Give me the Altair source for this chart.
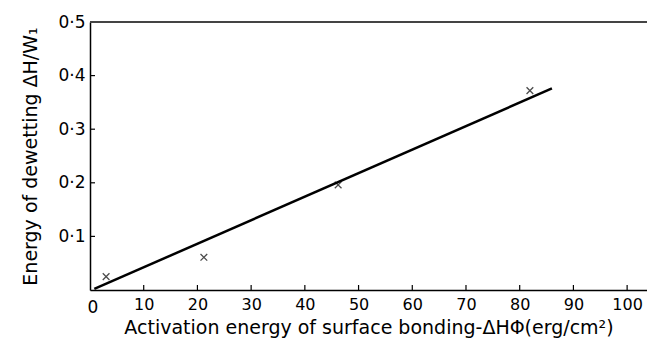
import altair as alt
import pandas as pd

# data
pts_x = [3.0, 21.2, 46.2, 81.9]
pts_y = [0.025, 0.061, 0.196, 0.372]
fit_x = [0.8, 86.0]
fit_y = [0.002, 0.376]
x_ticks = [10, 20, 30, 40, 50, 60, 70, 80, 90, 100]
y_ticks = [0.1, 0.2, 0.3, 0.4, 0.5]

FONT = "DejaVu Sans"
W, H = 557, 268
XMAX = 103.7

pts = pd.DataFrame({"x": pts_x, "y": pts_y})
fit = pd.DataFrame({"x": fit_x, "y": fit_y})
xt = pd.DataFrame({"x": x_ticks})
yt = pd.DataFrame({"y": y_ticks})

xs = alt.Scale(domain=[0, XMAX], nice=False, zero=False)
ys = alt.Scale(domain=[0, 0.5], nice=False, zero=False)

xaxis = alt.Axis(values=x_ticks, format="d", tickSize=0, labelPadding=6,
                 labelFont=FONT, labelFontSize=16, labelColor="black",
                 domainColor="black", domainWidth=1.5, grid=False,
                 title="Activation energy of surface bonding-ΔHΦ(erg/cm²)",
                 titleFont=FONT, titleFontSize=19, titleFontWeight="normal",
                 titleColor="black", titlePadding=6)
yaxis = alt.Axis(values=y_ticks, tickSize=0, labelPadding=5,
                 labelExpr="replace(format(datum.value, '.1f'), '.', '·')",
                 labelFont=FONT, labelFontSize=17, labelColor="black",
                 domainColor="black", domainWidth=1.5, grid=False,
                 title="Energy  of  dewetting    ΔH/W₁",
                 titleFont=FONT, titleFontSize=19, titleFontWeight="normal",
                 titleColor="black", titlePadding=17)

line = alt.Chart(fit).mark_line(color="black", strokeWidth=2.5).encode(
    x=alt.X("x:Q", scale=xs, axis=xaxis),
    y=alt.Y("y:Q", scale=ys, axis=yaxis),
)

points = alt.Chart(pts).mark_point(
    shape="M-1,-1L1,1M-1,1L1,-1", size=45, color="black",
    strokeWidth=1.3, filled=False
).encode(x=alt.X("x:Q", scale=xs), y=alt.Y("y:Q", scale=ys))

xtk = alt.Chart(xt).mark_rule(color="black", strokeWidth=1.2).encode(
    x=alt.X("x:Q", scale=xs), y=alt.value(H), y2=alt.value(H - 5))
ytk = alt.Chart(yt).mark_rule(color="black", strokeWidth=1.2).encode(
    y=alt.Y("y:Q", scale=ys), x=alt.value(0), x2=alt.value(5))

top = alt.Chart(pd.DataFrame({"y": [0.5]})).mark_rule(
    color="#444444", strokeWidth=2).encode(
    y=alt.Y("y:Q", scale=ys), x=alt.value(0), x2=alt.value(W))

origin = alt.Chart(pd.DataFrame({"t": ["0"]})).mark_text(
    font=FONT, fontSize=17, color="black", align="center", baseline="middle"
).encode(text="t:N", x=alt.value(3), y=alt.value(H + 18))

chart = alt.layer(line, points, xtk, ytk, top, origin).properties(
    width=W, height=H,
    autosize=alt.AutoSizeParams(type="none"),
    padding={"left": 90, "top": 22, "right": 0, "bottom": 51},
).configure_view(stroke=None).configure(background="white")

chart.save("out.html", embed_options={"renderer": "svg", "actions": False})
